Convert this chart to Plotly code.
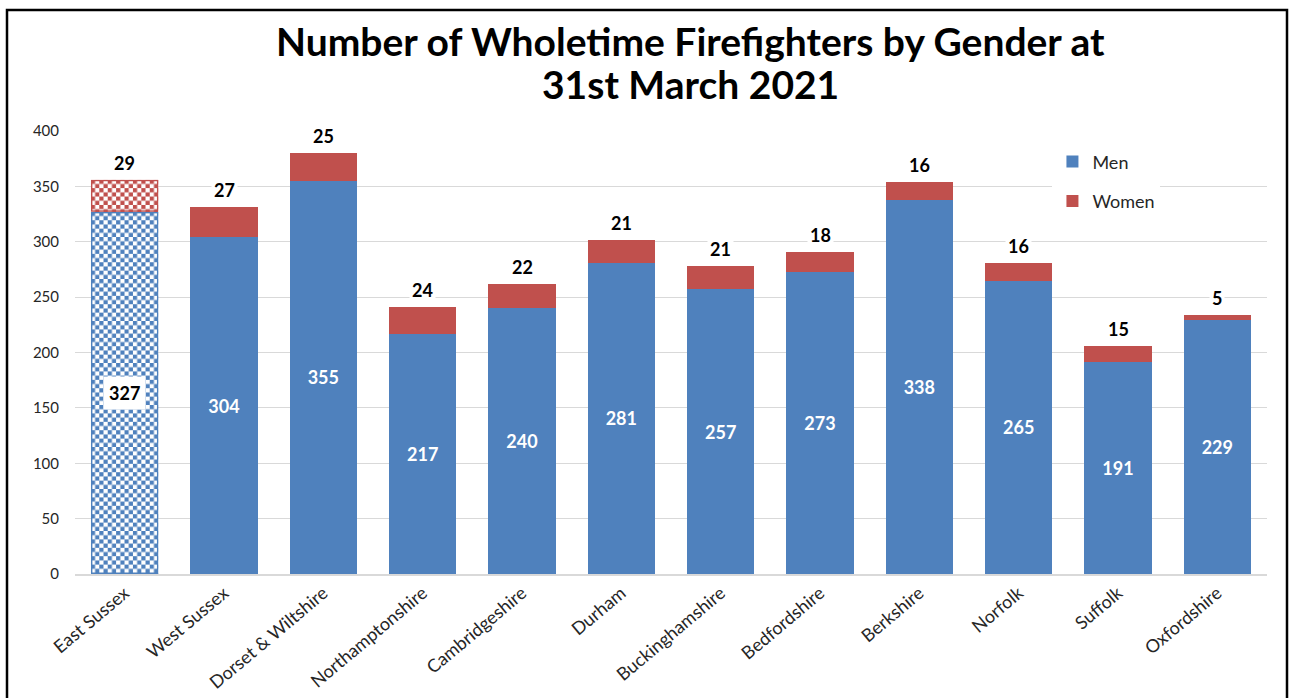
import base64
import plotly.graph_objects as go

categories = ["East Sussex", "West Sussex", "Dorset & Wiltshire", "Northamptonshire",
              "Cambridgeshire", "Durham", "Buckinghamshire", "Bedfordshire",
              "Berkshire", "Norfolk", "Suffolk", "Oxfordshire"]
men = [327, 304, 355, 217, 240, 281, 257, 273, 338, 265, 191, 229]
women = [29, 27, 25, 24, 22, 21, 21, 18, 16, 16, 15, 5]

BLUE = "#4F81BD"
RED = "#C0504D"
FONT = "Lato"
BAR_W = 0.68

# plot-area geometry (px) used only for styling
PLOT_L, PLOT_R, PLOT_T, PLOT_B = 75, 1267, 131, 574
Y_MAX = 400
px_per_unit = (PLOT_B - PLOT_T) / Y_MAX
px_per_cat = (PLOT_R - PLOT_L) / len(categories)
H = PLOT_B - PLOT_T
W = PLOT_R - PLOT_L


def checker_svg(color, w, h, cell=4.2):
    svg = (
        f'<svg xmlns="http://www.w3.org/2000/svg" width="{w:.1f}" height="{h:.1f}" '
        f'viewBox="0 0 {w:.1f} {h:.1f}" preserveAspectRatio="none">'
        f'<defs><pattern id="p" width="{2*cell}" height="{2*cell}" patternUnits="userSpaceOnUse">'
        f'<rect width="{2*cell}" height="{2*cell}" fill="white"/>'
        f'<rect width="{cell}" height="{cell}" fill="{color}"/>'
        f'<rect x="{cell}" y="{cell}" width="{cell}" height="{cell}" fill="{color}"/>'
        f'</pattern></defs>'
        f'<rect width="{w:.1f}" height="{h:.1f}" fill="url(#p)"/>'
        f'<rect x="0.75" y="0.75" width="{w-1.5:.1f}" height="{h-1.5:.1f}" fill="none" '
        f'stroke="{color}" stroke-width="1.5"/>'
        f'</svg>'
    )
    return "data:image/svg+xml;base64," + base64.b64encode(svg.encode()).decode()


men_text = [""] + [str(v) for v in men[1:]]

fig = go.Figure()
fig.add_trace(go.Bar(
    x=categories, y=men, name="Men", legendgroup="m",
    marker=dict(color=BLUE, line=dict(width=0)),
    text=men_text, textposition="inside", insidetextanchor="middle",
    textfont=dict(color="white", size=18, family=FONT, weight="bold"),
    width=BAR_W,
))
fig.add_trace(go.Bar(
    x=categories, y=women, name="Women", legendgroup="w",
    marker=dict(color=RED, line=dict(width=0)),
    width=BAR_W,
))

# checker fill for the first category (both segments)
bar_px_w = BAR_W * px_per_cat
fig.add_layout_image(dict(
    source=checker_svg(BLUE, bar_px_w, men[0] * px_per_unit),
    xref="x", yref="y", x=0, y=men[0], sizex=BAR_W, sizey=men[0],
    xanchor="center", yanchor="top", sizing="stretch", layer="above"))
fig.add_layout_image(dict(
    source=checker_svg(RED, bar_px_w, women[0] * px_per_unit),
    xref="x", yref="y", x=0, y=men[0] + women[0], sizex=BAR_W, sizey=women[0],
    xanchor="center", yanchor="top", sizing="stretch", layer="above"))

# label for first men segment (boxed)
fig.add_annotation(x=categories[0], y=men[0] / 2, text="<b>" + str(men[0]) + "</b>",
                   showarrow=False, bgcolor="white", borderpad=5,
                   font=dict(color="black", size=18, family=FONT))

# women labels above each stack
for c, m, w in zip(categories, men, women):
    fig.add_annotation(x=c, y=m + w, text="<b>" + str(w) + "</b>", showarrow=False,
                       yanchor="bottom", yshift=3, bgcolor="white", borderpad=2,
                       font=dict(color="black", size=18, family=FONT))

# title (two centred lines)
fig.add_annotation(xref="paper", yref="paper", x=0.516, y=(PLOT_B - 41) / H,
                   text="<b>Number of Wholetime Firefighters by Gender at</b>",
                   showarrow=False, xanchor="center", yanchor="middle",
                   font=dict(family=FONT, size=39, color="black"))
fig.add_annotation(xref="paper", yref="paper", x=0.516, y=(PLOT_B - 84) / H,
                   text="<b>31st March 2021</b>",
                   showarrow=False, xanchor="center", yanchor="middle",
                   font=dict(family=FONT, size=39, color="black"))

# outer frame
fig.add_shape(type="rect", xref="paper", yref="paper",
              x0=(7 - PLOT_L) / W, x1=(1287 - PLOT_L) / W,
              y0=(PLOT_B - 720) / H, y1=(PLOT_B - 10) / H,
              line=dict(color="black", width=2.5), layer="below")

fig.update_layout(
    width=1292, height=698,
    barmode="stack",
    paper_bgcolor="white", plot_bgcolor="white",
    margin=dict(l=PLOT_L, r=1292 - PLOT_R, t=PLOT_T, b=698 - PLOT_B, autoexpand=False),
    legend=dict(x=0.82, y=0.972, xanchor="left", yanchor="top",
                bgcolor="white", font=dict(family=FONT, size=18, color="#262626"),
                tracegroupgap=13, traceorder="grouped"),
    showlegend=True,
)
fig.update_yaxes(range=[0, Y_MAX], dtick=50, showgrid=True, gridcolor="#D9D9D9",
                 gridwidth=1, zeroline=False, showline=False, automargin=False,
                 tickfont=dict(family=FONT, size=15, color="#262626"), ticks="",
                 ticklabelstandoff=15)
fig.update_xaxes(showline=True, linecolor="#D9D9D9", linewidth=1.5, tickangle=-40,
                 automargin=False,
                 tickfont=dict(family=FONT, size=18, color="#262626"), ticks="")

fig.write_html("out.html", config={"displayModeBar": False},
               post_script="document.body.style.margin='0';")
